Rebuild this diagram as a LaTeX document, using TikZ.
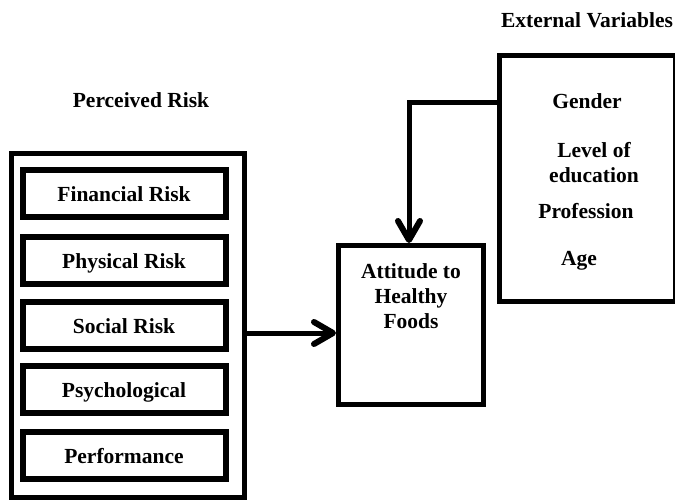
\documentclass[tikz,border=0pt]{standalone}
\usepackage{fontspec}
\setmainfont{Liberation Serif}
\usetikzlibrary{arrows.meta}
\begin{document}
\begin{tikzpicture}[x=1pt,y=-1pt,
  txt/.style={font=\fontsize{21.5}{25}\selectfont\bfseries, inner sep=0pt},
  lbl/.style={txt, anchor=base},
  riskbox/.style={txt, draw, line width=6pt, minimum width=203pt, minimum height=47pt, text height=18pt, text depth=2pt},
  bigbox/.style={draw, line width=5pt, inner sep=0pt},
  conn/.style={line width=5pt, -{Straight Barb[length=19pt,width=22pt,line width=6pt,round]}}
]
\useasboundingbox (0,0) rectangle (675,499);
% outer Perceived Risk box
\node[bigbox, minimum width=233.5pt, minimum height=343.5pt] (outer) at (127.75,325.25) {};
\node[lbl] (prtitle) at (141,107) {Perceived Risk};
\node[riskbox] (fin) at (124,193.5) {Financial Risk};
\node[riskbox] (phy) at (124,260) {Physical Risk};
\node[riskbox] (soc) at (124,325) {Social Risk};
\node[riskbox] (psy) at (124,389) {Psychological};
\node[riskbox] (per) at (124,455.5) {Performance};
% attitude box
\node[bigbox, minimum width=144.5pt, minimum height=158.5pt] (att) at (410.75,324.75) {};
\node[lbl, align=center] (atttxt) at (411,328) {Attitude to\\Healthy\\Foods};
% external box
\node[bigbox, minimum width=175.5pt, minimum height=245.5pt] (ext) at (587.25,178.25) {};
\node[lbl] (extitle) at (587,27) {External Variables};
\node[lbl] (gen) at (587,108) {Gender};
\node[lbl, align=center] (lev) at (594,182) {Level of\\education};
\node[lbl] (pro) at (586,218) {Profession};
\node[lbl] (age) at (579,265) {Age};
% connectors
\coordinate (hy) at (290,333);
\coordinate (elb) at (409,102);
\draw[conn] (outer.east |- hy) -- (att.west |- hy);
\draw[conn] (ext.west |- elb) -- (elb) -- (elb |- att.north);
\end{tikzpicture}
\end{document}
